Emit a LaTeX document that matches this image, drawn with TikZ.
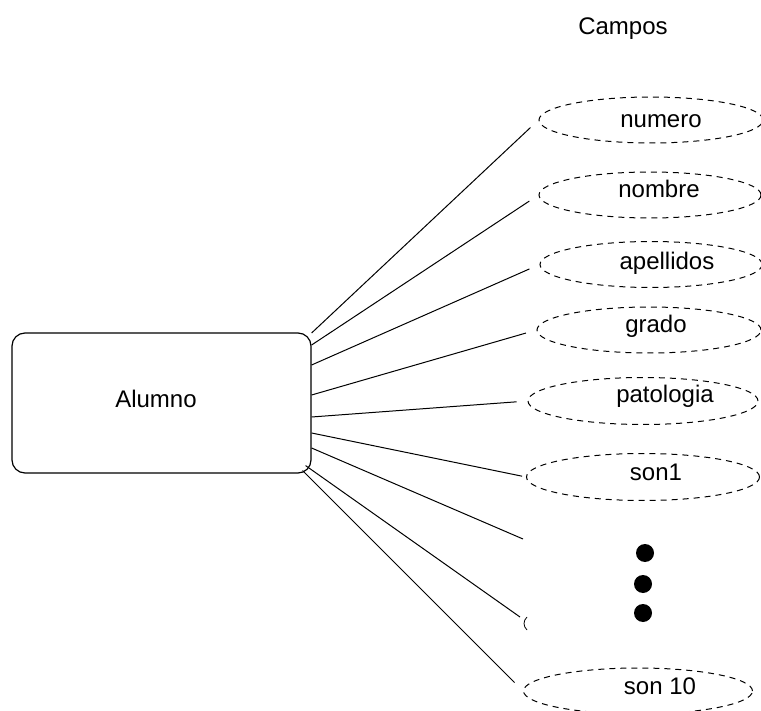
\documentclass[tikz,border=0pt]{standalone}
\usepackage{fontspec}
\setmainfont{Liberation Sans}
\usetikzlibrary{shapes.geometric}
\begin{document}
\begin{tikzpicture}[x=1pt,y=-1pt,
  lbl/.style={font=\fontsize{24}{28}\selectfont, anchor=base, inner sep=0pt},
  entity/.style={draw, line width=1.2pt, rounded corners=13pt,
    minimum width=299pt, minimum height=140pt, inner sep=0pt},
  field/.style={draw, ellipse, dash pattern=on 6pt off 5pt, line width=1pt,
    inner sep=0pt, minimum height=46pt},
  link/.style={line width=1pt, shorten >=11pt},
  dot/.style={circle, fill, inner sep=0pt, minimum size=18pt}]
\useasboundingbox (0,0) rectangle (761,711);

% entity
\node[entity] (box) at (161.5,403) {};
\node[lbl] (boxlbl) at (156,408) {Alumno};

% heading
\node[lbl] (head) at (623,35) {Campos};

% attribute ellipses
\node[field, minimum width=224pt] (numero)    at (651,120)   {};
\node[field, minimum width=222pt] (nombre)    at (650,195)   {};
\node[field, minimum width=222pt] (apellidos) at (651,264.5) {};
\node[field, minimum width=224pt] (grado)     at (649,330)   {};
\node[field, minimum width=230pt, minimum height=47pt] (patologia) at (643,401) {};
\node[field, minimum width=233pt, minimum height=47pt] (son1)      at (643,477) {};
\node[field, minimum width=229pt] (son10)     at (638,691)   {};

% attribute names
\node[lbl] (t1) at (661,128) {numero};
\node[lbl] (t2) at (659,198) {nombre};
\node[lbl] (t3) at (667,270) {apellidos};
\node[lbl] (t4) at (656,333) {grado};
\node[lbl] (t5) at (665,403) {patologia};
\node[lbl] (t6) at (656,480) {son1};
\node[lbl] (t7) at (660,694) {son 10};

% ellipsis dots
\node[dot] (d1) at (645,553) {};
\node[dot] (d2) at (643,584) {};
\node[dot] (d3) at (643,613) {};

% loose ends of the elided fields
\coordinate (free7) at (523,539);
\coordinate (free8) at (520,617);
\draw[line width=0.8pt] (527,617) .. controls (523,621) and (523,626) .. (527,630);

% links from the entity to its fields
\draw[link] (box.east |- 0,333) -- (numero.west);
\draw[link] (box.east |- 0,345) -- (nombre.west);
\draw[link] (box.east |- 0,365) -- (apellidos.west);
\draw[link] (box.east |- 0,395) -- (grado.west);
\draw[link] (box.east |- 0,417) -- (patologia.west);
\draw[link, shorten >=4pt] (box.east |- 0,433) -- (son1.west);
\draw[link, shorten >=0pt] (box.east |- 0,448) -- (free7);
\draw[link, shorten >=0pt] ([shift={(-6,-8)}]box.south east) -- (free8);
\draw[link, shorten >=12pt] ([shift={(-9,-3)}]box.south east) -- (son10.west);
\end{tikzpicture}
\end{document}
